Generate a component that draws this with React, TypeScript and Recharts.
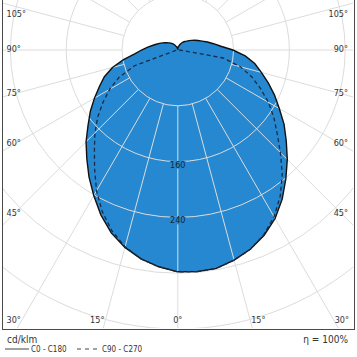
import React from 'react';
import { RadarChart, Radar, PolarGrid, PolarAngleAxis, PolarRadiusAxis } from 'recharts';

// gamma angles (deg from nadir) and intensities in cd/klm
const gammaAngles = [
  0, 5, 10, 15, 20, 25, 30, 35, 40, 45, 50, 55, 60, 65, 70, 75, 80, 85, 90,
  95, 100, 105, 110, 115, 120, 125, 130, 135, 140, 145, 150, 155, 160, 165, 170, 175, 180,
];
const c0c180 = [
  319, 318, 312, 304, 293, 279, 261, 241, 222, 203, 186, 168, 153, 138, 124, 112, 97, 79, 62,
  52, 44, 37, 32, 28, 24, 21, 18, 16, 14, 12, 10, 8, 6, 5, 3.5, 2, 0.5,
];
const c90c270 = [
  319, 318, 312, 304, 292, 276, 256, 233, 208, 186, 168, 150, 131, 113, 93, 66, 4, 0, 0,
  0, 0, 0, 0, 0, 0, 0, 0, 0, 0, 0, 0, 0, 0, 0, 0, 0, 0,
];
const radiusLabels = [160, 240];
const sideAngleLabels = [105, 90, 75, 60, 45];
const bottomAngleLabels = [-30, -15, 0, 15, 30];

const W = 350;
const H = 328;
const CX = 174.8;
const CY = 50;
const INNER = 55.8; // radius of the 80 cd/klm ring
const OUTER = INNER * 6; // radius of the 480 cd/klm ring
const pxPerUnit = INNER / 80;

const FONT = 'Tahoma, "DejaVu Sans Condensed", "Liberation Sans", sans-serif';
const BLUE = '#2588d0';

// full turn, right half = C0 side, left half mirrored (C180)
const data = Array.from({ length: 72 }, (_, i) => {
  const k = i <= 36 ? i : 72 - i;
  return { angle: i * 5, gamma: gammaAngles[k], c0: c0c180[k], c90: c90c270[k] };
});

const rad = (d: number) => (d * Math.PI) / 180;
const spokes = Array.from({ length: 24 }, (_, i) => i * 15);

function Polar({ children }: { children: React.ReactNode }) {
  return (
    <RadarChart
      width={W}
      height={H}
      data={data}
      cx={CX}
      cy={CY}
      innerRadius={INNER}
      outerRadius={OUTER}
      startAngle={-90}
      endAngle={270}
      margin={{ top: 0, right: 0, bottom: 0, left: 0 }}
    >
      <PolarAngleAxis dataKey="angle" tick={false} axisLine={false} />
      <PolarRadiusAxis type="number" domain={[80, 480]} tickCount={6} allowDataOverflow tick={false} axisLine={false} />
      {children}
    </RadarChart>
  );
}

function Labels() {
  const side = sideAngleLabels.map((g) => {
    const t = (CX - 10.5) / Math.sin(rad(g));
    const y = Math.max(CY + t * Math.cos(rad(g)) - 1.5, 14);
    return (
      <g key={g}>
        <text x={3.5} y={y} dominantBaseline="central" fontSize={9} fill="#333" fontFamily={FONT}>
          {g}°
        </text>
        <text x={W - 5} y={y} dominantBaseline="central" textAnchor="end" fontSize={9} fill="#333" fontFamily={FONT}>
          {g}°
        </text>
      </g>
    );
  });
  const bottom = bottomAngleLabels.map((g) => {
    const yl = 320;
    const xl = CX + (yl - CY) * Math.tan(rad(g));
    const anchor = g < 0 ? 'end' : g > 0 ? 'start' : 'middle';
    const x = g < 0 ? xl - 1 : g > 0 ? xl + 1 : xl;
    return (
      <text key={g} x={x} y={yl} dominantBaseline="central" textAnchor={anchor} fontSize={9} fill="#333" fontFamily={FONT}>
        {Math.abs(g)}°
      </text>
    );
  });
  const radial = radiusLabels.map((v) => {
    const y = CY + v * pxPerUnit + 3;
    return (
      <g key={v}>
        <rect x={CX - 8} y={y - 3.5} width={16} height={7.5} fill={BLUE} />
        <text x={CX} y={y} dominantBaseline="central" textAnchor="middle" fontSize={9} fill="#15263a" fontFamily={FONT}>
          {v}
        </text>
      </g>
    );
  });
  return (
    <svg width={W} height={H} style={{ position: 'absolute', left: 0, top: 0 }}>
      {side}
      {bottom}
      {radial}
    </svg>
  );
}

export default function App() {
  const layer: React.CSSProperties = { position: 'absolute', left: 0, top: 0 };
  return (
    <div style={{ position: 'fixed', left: 0, top: 0, width: 357, height: 357, background: '#fff' }}>
      <div
        style={{
          position: 'absolute',
          left: 2,
          top: 0,
          width: W + 3,
          height: H + 1.5,
          boxSizing: 'border-box',
          borderLeft: '1.5px solid #4a4a4a',
          borderRight: '1.5px solid #4a4a4a',
          borderBottom: '1.5px solid #4a4a4a',
          overflow: 'hidden',
        }}
      >
        <div style={layer}>
          <Polar>
            <Radar dataKey="c0" fill={BLUE} fillOpacity={1} stroke="none" isAnimationActive={false} />
          </Polar>
        </div>
        <div style={layer}>
          <Polar>
            <PolarGrid gridType="circle" polarAngles={spokes} stroke="#dcdcdc" strokeWidth={1} />
            <Radar dataKey="c0" fill="none" fillOpacity={0} stroke="#111" strokeWidth={1.4} isAnimationActive={false} />
            <Radar
              dataKey="c90"
              fill="none"
              fillOpacity={0}
              stroke="#1a2b45"
              strokeWidth={1.3}
              strokeDasharray="4 3"
              isAnimationActive={false}
            />
          </Polar>
        </div>
        <Labels />
      </div>
      <svg style={{ position: 'absolute', left: 0, top: 329 }} width={357} height={28}>
        <text x={7} y={10} dominantBaseline="central" fontSize={10} fill="#333" fontFamily={FONT}>
          cd/klm
        </text>
        <line x1={5} x2={29} y1={20} y2={20} stroke="#444" strokeWidth={1} />
        <text x={31} y={20} dominantBaseline="central" fontSize={8} fill="#333" fontFamily={FONT}>
          C0 - C180
        </text>
        <line x1={77} x2={97} y1={20} y2={20} stroke="#444" strokeWidth={1} strokeDasharray="4 4" />
        <text x={102} y={20} dominantBaseline="central" fontSize={8} fill="#333" fontFamily={FONT}>
          C90 - C270
        </text>
        <text x={348} y={10} dominantBaseline="central" textAnchor="end" fontSize={10} fill="#333" fontFamily={FONT}>
          η = 100%
        </text>
      </svg>
    </div>
  );
}
